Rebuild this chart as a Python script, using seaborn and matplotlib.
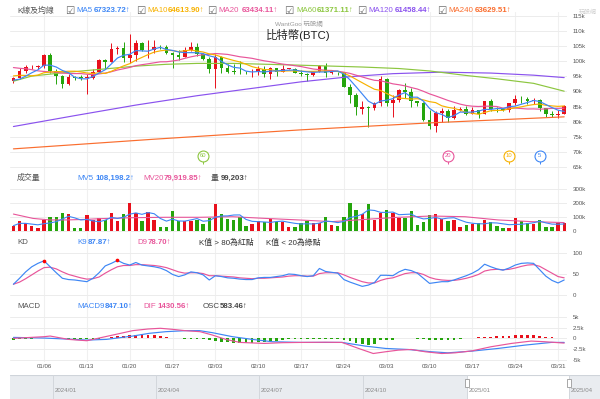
import numpy as np
import pandas as pd
import matplotlib
matplotlib.use("Agg")
import matplotlib.pyplot as plt
import seaborn as sns

# ---------------- data (prices in thousands of USD, volume in thousands) -------------
dates = pd.date_range("2025-01-01", "2025-04-01", freq="D")
open_ = [93.4, 94.4, 96.9, 98.1, 98.2, 98.3, 102.1, 96.9, 95.0, 92.5, 94.7,
         94.6, 94.5, 94.6, 96.5, 100.5, 99.9, 104.1, 104.4, 101.1, 102.0,
         106.1, 103.6, 103.9, 104.8, 104.7, 102.6, 102.0, 101.3, 103.7, 104.7,
         102.4, 100.6, 97.6, 101.4, 97.9, 96.6, 96.5, 96.4, 96.3, 96.5,
         97.4, 95.7, 97.8, 96.6, 97.5, 97.6, 96.1, 95.8, 95.5, 96.6,
         98.3, 96.1, 96.6, 96.3, 91.5, 88.7, 84.3, 84.7, 84.4, 86.1,
         94.3, 86.1, 87.2, 90.6, 89.9, 86.7, 86.2, 80.7, 78.5, 82.9,
         83.7, 81.1, 83.9, 84.3, 82.6, 84.0, 82.7, 86.8, 84.2, 84.1,
         83.8, 86.1, 87.5, 87.4, 86.9, 87.2, 84.4, 82.6, 82.3, 82.5]
high = [94.9, 97.8, 98.9, 98.8, 98.8, 102.5, 102.7, 97.3, 95.3, 95.8, 95.0,
        95.4, 95.9, 97.4, 100.7, 100.9, 105.9, 104.9, 106.3, 109.1, 107.2,
        106.4, 106.9, 107.1, 105.3, 105.5, 103.2, 103.8, 104.8, 106.4, 106.0,
        102.7, 101.4, 102.5, 101.7, 99.0, 99.2, 100.1, 96.9, 97.3, 98.3,
        98.5, 98.1, 97.8, 98.8, 97.9, 97.7, 97.0, 96.0, 96.9, 98.7,
        99.5, 96.9, 96.6, 96.5, 92.5, 89.4, 87.0, 85.1, 86.5, 95.0,
        94.4, 88.9, 90.9, 92.8, 91.2, 86.8, 86.5, 83.9, 83.6, 84.4,
        84.3, 85.3, 84.7, 85.1, 84.7, 84.0, 87.0, 87.4, 84.7, 84.5,
        86.2, 88.7, 88.5, 88.3, 87.8, 87.5, 84.5, 83.5, 83.9, 85.5]
low = [92.8, 94.2, 96.0, 97.5, 97.3, 97.9, 96.1, 92.5, 91.2, 92.2, 93.8,
       93.7, 89.3, 94.3, 96.5, 97.3, 99.9, 102.3, 99.7, 99.5, 100.1,
       103.3, 101.2, 102.8, 104.1, 102.5, 97.8, 100.3, 101.3, 103.3, 101.6,
       100.3, 96.2, 91.2, 96.2, 96.2, 95.7, 95.7, 95.7, 94.7, 95.3,
       94.9, 94.1, 95.2, 96.3, 97.3, 96.1, 95.2, 93.4, 95.2, 96.4,
       94.9, 95.8, 95.3, 91.4, 86.1, 82.3, 82.7, 78.3, 83.8, 85.1,
       85.1, 81.5, 86.4, 87.8, 84.7, 85.3, 80.1, 77.5, 76.6, 80.0,
       79.9, 80.8, 83.6, 82.1, 82.5, 81.2, 82.4, 83.7, 83.2, 83.7,
       83.2, 85.6, 86.3, 85.9, 85.9, 83.6, 81.7, 81.6, 81.3, 82.4]
close = [94.4, 96.9, 98.1, 98.2, 98.3, 102.1, 96.9, 95.0, 92.5, 94.7, 94.5,
         94.5, 94.6, 96.5, 100.5, 99.9, 104.1, 104.4, 101.1, 102.0, 106.1,
         103.6, 103.9, 104.8, 104.7, 102.6, 102.0, 101.3, 103.7, 104.7, 102.4,
         100.6, 97.6, 101.4, 97.9, 96.6, 96.5, 96.4, 96.3, 96.5, 97.4,
         95.7, 97.8, 96.6, 97.5, 97.6, 96.1, 95.8, 95.5, 96.6, 98.3,
         96.1, 96.6, 96.3, 91.5, 88.7, 84.7, 84.7, 84.4, 86.1, 94.3,
         86.1, 87.2, 90.6, 89.9, 86.7, 86.2, 80.7, 78.5, 82.9, 83.7,
         81.1, 83.9, 84.3, 82.6, 84.0, 82.7, 86.8, 84.2, 84.1, 83.8,
         86.1, 87.5, 87.4, 86.9, 87.2, 84.4, 82.6, 82.3, 82.5, 85.2]
# closes 2024-12-13 .. 2024-12-31 (feed the first moving-average values)
prior_close = [101.4, 101.4, 104.3, 106.0, 106.1, 100.0, 97.5, 97.8, 97.2, 95.1,
               94.7, 98.7, 99.4, 95.8, 94.2, 95.2, 93.1, 92.6, 93.4]
volume = [38, 71, 55, 33, 24, 79, 98, 98, 129, 121, 24,
          24, 114, 79, 90, 79, 126, 74, 121, 200, 126,
          74, 138, 79, 31, 31, 143, 74, 74, 74, 79,
          48, 95, 195, 119, 83, 79, 98, 36, 50, 71,
          67, 83, 67, 64, 29, 31, 60, 74, 57, 60,
          102, 45, 36, 98, 198, 148, 119, 190, 79, 129,
          148, 131, 95, 90, 140, 40, 67, 114, 121, 86,
          74, 79, 31, 43, 50, 55, 79, 67, 36, 19,
          24, 90, 71, 60, 50, 79, 31, 26, 55, 60]
k_line = [26, 40, 55, 67, 75, 81, 67, 53, 40, 37, 36,
          34, 32, 40, 53, 69, 75, 82, 75, 71, 77,
          71, 69, 67, 64, 58, 49, 44, 48, 55, 53,
          48, 36, 46, 44, 41, 40, 38, 37, 37, 41,
          42, 42, 44, 46, 50, 49, 46, 44, 46, 63,
          56, 54, 52, 37, 31, 26, 21, 24, 30, 47,
          47, 46, 55, 61, 58, 52, 40, 28, 30, 32,
          32, 36, 41, 46, 52, 60, 73, 67, 62, 59,
          64, 71, 75, 76, 75, 60, 45, 35, 29, 36]
d_line = [26, 31, 39, 48, 57, 65, 66, 62, 55, 49, 45,
          41, 38, 39, 43, 52, 60, 67, 70, 70, 72,
          72, 71, 70, 68, 65, 60, 55, 52, 53, 53,
          51, 46, 46, 45, 44, 43, 41, 40, 39, 40,
          40, 41, 42, 43, 45, 46, 46, 45, 45, 51,
          53, 53, 53, 48, 42, 37, 32, 29, 29, 35,
          39, 41, 46, 51, 53, 53, 49, 42, 38, 36,
          35, 35, 37, 40, 44, 49, 57, 60, 61, 60,
          61, 64, 68, 71, 72, 68, 60, 52, 44, 41]
osc = [-0.3, -0.25, -0.15, -0.05, 0.05, 0.1, 0.15, 0.1, 0.05, -0.1, -0.15,
       -0.2, -0.2, -0.15, -0.1, 0.05, 0.2, 0.45, 0.65, 0.8, 0.85,
       0.9, 0.85, 0.8, 0.6, 0.3, 0.1, 0.05, -0.05, -0.05, -0.1,
       -0.15, -0.3, -0.55, -0.8, -0.95, -1.05, -1.1, -1.1, -1.05, -0.95,
       -0.8, -0.65, -0.5, -0.35, -0.25, -0.2, -0.15, -0.1, -0.1, -0.05,
       -0.05, -0.05, -0.1, -0.3, -0.7, -1.1, -1.4, -1.55, -1.2, -0.45,
       -0.35, -0.3, 0.05, 0.05, 0.05, -0.1, -0.2, -0.35, -0.4, -0.4,
       -0.35, -0.3, -0.1, 0.05, 0.1, 0.2, 0.3, 0.4, 0.5, 0.55,
       0.65, 0.75, 0.8, 0.8, 0.75, 0.6, 0.4, 0.25, 0.1, 0.05]
dif_day = [0, 5, 6, 9, 12, 15, 17, 19.5, 22, 24, 26, 28, 30.5, 32.5, 34.7, 37, 41, 44,
           47, 51, 53.7, 56.4, 58.8, 60.8, 62.9, 65, 67.3, 70, 72.2, 75, 78, 81.4, 84.6, 86.8, 90]
dif_val = [0.0, 0.38, 0.53, -0.24, -0.55, 0.38, 1.0, 1.78, 2.16, 2.32, 2.08, 1.78, 1.54, 0.77, -0.24,
           -0.94, -1.17, -1.0, -0.94, -0.9, -0.94, -2.33, -3.5, -3.1, -2.72, -2.57, -3.1, -3.5, -3.34,
           -2.88, -1.95, -1.17, -0.63, -0.78, -1.09]
macd_day = [0, 5, 8.6, 12, 15.2, 19.5, 22.2, 24.9, 28.2, 30.4, 32.5, 35.8, 39, 42.3, 47,
            53.7, 57.5, 60.8, 64.5, 68.3, 71, 74.9, 79.2, 83.6, 87.9, 90]
macd_val = [0.22, 0.07, -0.16, -0.4, -0.24, 0.53, 1.16, 1.54, 1.78, 1.78, 1.31, 0.38, -0.24, -0.78, -0.94,
            -0.94, -1.79, -2.33, -2.57, -3.1, -3.34, -2.95, -2.33, -1.56, -0.94, -0.94]
mv20_day = [0, 3.2, 5.9, 8.6, 11.9, 14.1, 19.5, 24.9, 30.4, 35.8, 41.2, 46.6,
            52.1, 57.5, 62.9, 68.3, 73.8, 79.2, 84.6, 90]
mv20_val = [121, 90, 79, 79, 83, 88, 95, 98, 98, 102, 90, 79,
            67, 83, 98, 107, 102, 79, 67, 60]
ma60_day = [0, 3, 9, 14, 20, 25, 30, 36, 47, 52, 57, 63, 68, 74, 79, 85, 90]
ma60_val = [93.4, 95.1, 96.4, 97.3, 98.4, 99.0, 99.3, 99.3, 98.7, 98.4, 98.1, 97.6, 96.8, 95.3, 94.2, 92.7, 90.1]
ma120_day = [0, 10, 20, 30, 40, 47, 55, 62, 70, 78, 85, 90]
ma120_val = [78.4, 82.0, 85.5, 88.6, 91.3, 93.2, 94.9, 95.9, 96.4, 96.1, 95.4, 94.6]
ma240_day = [0, 23, 47, 68, 90]
ma240_val = [71.0, 74.2, 77.3, 79.6, 81.6]
ma_marker_n = [60, 20, 10, 5]

price_ticks = [65, 70, 75, 80, 85, 90, 95, 100, 105, 110, 115]
vol_ticks = [0, 100, 200, 300]
kd_ticks = [0, 50, 100]
macd_ticks = [-5, -2.5, 0, 2.5, 5]
macd_tick_labels = ["-5k", "-2.5k", "0", "2.5k", "5k"]
nav_labels = ["2024/01", "2024/04", "2024/07", "2024/10", "2025/01", "2025/04"]

# ---------------- styling ----------------
sns.set_theme(style="white")
plt.rcParams['font.family'] = ['Liberation Sans', 'Noto Sans CJK TC', 'DejaVu Sans']

RED, GREEN = "#e8101c", "#25a50c"
C5, C10, C20, C60, C120, C240 = "#3d86f5", "#f7b100", "#e8559a", "#8cc63f", "#8a52ee", "#fa6d2e"
GRID = "#ececec"
TICK = "#555555"

W, H = 600, 399
fig = plt.figure(figsize=(W / 100, H / 100), dpi=100)
fig.patch.set_facecolor("white")


def axes_px(x0, y0, x1, y1):
    a = fig.add_axes([x0 / W, 1 - y1 / H, (x1 - x0) / W, (y1 - y0) / H])
    a.set_facecolor("none")
    for s in a.spines.values():
        s.set_visible(False)
    return a


def ftext(x, y, s, color="#555", size=5.7, weight="normal", ha="left", **kw):
    fig.text(x / W, 1 - y / H, s, color=color, fontsize=size, fontweight=weight,
             ha=ha, va="center", **kw)


n = len(close)
idx = np.arange(n)
XL = (-0.56, 90.46)
mondays = [i for i in idx if dates[i].weekday() == 0]

# background vertical grid
bg = axes_px(10, 12, 567, 362)
bg.set_xlim(*XL)
bg.set_ylim(0, 1)
for m in mondays:
    bg.axvline(m, color="#f0f0f0", lw=0.8)
bg.set_xticks([]); bg.set_yticks([])


def style(ax, ticks, labels, ylim):
    ax.set_xlim(*XL)
    ax.set_ylim(*ylim)
    ax.yaxis.tick_right()
    ax.set_yticks(ticks)
    ax.set_yticklabels(labels)
    ax.tick_params(axis="y", length=0, pad=4.3, labelsize=4.4, labelcolor=TICK)
    ax.grid(axis="y", color=GRID, lw=0.7)
    ax.grid(axis="x", visible=False)
    ax.set_axisbelow(True)
    ax.set_xlabel(""); ax.set_ylabel("")


up = np.array(close) >= np.array(open_)
cols = np.where(up, RED, GREEN)

# ---------------- price panel ----------------
axp = axes_px(10, 12, 567, 172)
full = pd.Series(prior_close + close)
ma5 = full.rolling(5).mean().iloc[len(prior_close):].values
ma10 = full.rolling(10).mean().iloc[len(prior_close):].values
ma20 = full.rolling(20).mean().iloc[len(prior_close):].values

axp.vlines(idx, low, high, colors=cols, lw=0.7, zorder=3)
body_lo = np.minimum(open_, close)
body_h = np.maximum(np.abs(np.array(close) - np.array(open_)), 0.15)
axp.bar(idx, body_h, bottom=body_lo, width=0.6, color=cols, zorder=4, linewidth=0)

sns.lineplot(x=ma240_day, y=ma240_val, ax=axp, color=C240, lw=0.85, zorder=5)
sns.lineplot(x=ma120_day, y=ma120_val, ax=axp, color=C120, lw=0.85, zorder=5)
sns.lineplot(x=ma60_day, y=ma60_val, ax=axp, color=C60, lw=0.85, zorder=5)
sns.lineplot(x=idx, y=ma20, ax=axp, color=C20, lw=0.85, zorder=5)
sns.lineplot(x=idx, y=ma10, ax=axp, color=C10, lw=0.85, zorder=5)
sns.lineplot(x=idx, y=ma5, ax=axp, color=C5, lw=0.85, zorder=6)
style(axp, price_ticks, [f"{t}k" for t in price_ticks], (63.34, 116.32))
axp.set_xticks([])

# MA window markers
my = 68.64
for nn, c in zip(ma_marker_n, [C60, C20, C10, C5]):
    xi = n - nn
    axp.vlines(xi, 65.9, my, colors=c, lw=0.7, zorder=6)
    axp.scatter([xi], [my], s=62, facecolor="white", edgecolor=c, linewidth=0.8, zorder=7)
    axp.text(xi, my, str(nn), color=c, fontsize=4.2, ha="center", va="center", zorder=8)

# ---------------- volume panel ----------------
axv = axes_px(10, 186, 567, 232)
axv.bar(idx, volume, width=0.55, color=cols, linewidth=0, zorder=3)
mv5 = pd.Series(volume).rolling(5, min_periods=1).mean().values
sns.lineplot(x=mv20_day, y=mv20_val, ax=axv, color=C20, lw=0.8, zorder=4)
sns.lineplot(x=idx, y=mv5, ax=axv, color=C5, lw=0.8, zorder=5)
style(axv, vol_ticks, ["0", "100k", "200k", "300k"], (-7.1, 321.4))
axv.set_xticks([])

# ---------------- KD panel ----------------
axk = axes_px(10, 249, 567, 298)
sns.lineplot(x=idx, y=d_line, ax=axk, color=C20, lw=0.85, zorder=4)
sns.lineplot(x=idx, y=k_line, ax=axk, color=C5, lw=0.85, zorder=5)
kk = np.array(k_line)
axk.scatter(idx[kk > 80], kk[kk > 80], s=7, color="#ff0000", zorder=6, linewidth=0)
axk.scatter(idx[kk < 20], kk[kk < 20], s=7, color="#00aa00", zorder=6, linewidth=0)
style(axk, kd_ticks, ["0", "50", "100"], (-6.3, 108.7))
axk.set_xticks([])

# ---------------- MACD panel ----------------
axm = axes_px(10, 313, 567, 362)
oo = np.array(osc)
axm.bar(idx, oo, width=0.45, color=np.where(oo >= 0, RED, GREEN), linewidth=0, zorder=3)
sns.lineplot(x=macd_day, y=macd_val, ax=axm, color=C5, lw=0.85, zorder=4)
sns.lineplot(x=dif_day, y=dif_val, ax=axm, color=C20, lw=0.85, zorder=5)
style(axm, macd_ticks, macd_tick_labels, (-5.46, 5.85))
axm.set_xticks(mondays)
axm.set_xticklabels([dates[i].strftime("%m/%d") for i in mondays])
axm.tick_params(axis="x", length=0, pad=1.6, labelsize=4.4, labelcolor=TICK)

# ---------------- navigator ----------------
axn = axes_px(10, 375, 600, 399)
axn.set_xlim(10, 600); axn.set_ylim(0, 1)
axn.axvspan(10, 467, color="#e9ecf0", lw=0)
axn.axvspan(569, 600, color="#e9ecf0", lw=0)
axn.axhline(0.985, color="#cfd4da", lw=0.8)
nav_x = [53, 156, 259, 363, 467, 569]
for xv, lab in zip(nav_x, nav_labels):
    axn.axvline(xv, color="#d3d7dc", lw=0.7)
    axn.text(xv + 2, 0.36, lab, fontsize=4.4, color="#8a8a8a", ha="left", va="center")
for xv in (467, 569):
    axn.add_patch(plt.Rectangle((xv - 1.6, 0.5), 3.2, 0.34, facecolor="white",
                                edgecolor="#9a9a9a", lw=0.6, zorder=5))
axn.set_xticks([]); axn.set_yticks([])

# ---------------- texts ----------------
ftext(299, 23.5, "WantGoo 玩股網", color="#9a9a9a", size=4.6, ha="center")
ftext(298.5, 35, "比特幣(BTC)", color="#222222", size=8.2, ha="center")
ftext(588, 12, "玩股網", color="#cfcfcf", size=4.3, ha="center")

# header row: K lines and MAs
ftext(17, 11, "K線及均線", color="#555")
ma_hdr = [(65, 76, 94, "MA5", "67323.72↑", C5), (136, 147, 168, "MA10", "64613.90↑", C10),
          (207, 218, 242, "MA20", "63434.11↑", C20), (284, 296, 317, "MA60", "61371.11↑", C60),
          (357, 368, 395, "MA120", "61458.44↑", C120), (437, 448, 475, "MA240", "63629.51↑", C240)]
for bx, lx, vx, lab, val, c in ma_hdr:
    ftext(bx, 11, "☑", color="#666", size=7.5, family="DejaVu Sans")
    ftext(lx, 11, lab, color=c)
    ftext(vx, 11, val, color=c, weight="bold")

# volume header
ftext(17, 178.3, "成交量", color="#555")
ftext(77, 178.3, "MV5", color=C5); ftext(95, 178.3, "108,198.2↑", color=C5, weight="bold")
ftext(143, 178.3, "MV20", color=C20); ftext(164, 178.3, "79,919.85↑", color=C20, weight="bold")
ftext(211, 178.3, "量", color="#444"); ftext(221, 178.3, "99,203↑", color="#444", weight="bold")

# KD header
ftext(17, 242.7, "KD", color="#555")
ftext(77, 242.7, "K9", color=C5); ftext(88, 242.7, "87.87↑", color=C5, weight="bold")
ftext(137, 242.7, "D9", color=C20); ftext(148, 242.7, "78.70↑", color=C20, weight="bold")
ftext(199, 242.7, "K值 > 80為紅點", color="#333")
ftext(266, 242.7, "K值 < 20為綠點", color="#333")

# MACD header
ftext(17, 307, "MACD", color="#555")
ftext(77, 307, "MACD9", color=C5); ftext(105, 307, "847.10↑", color=C5, weight="bold")
ftext(143, 307, "DIF", color=C20); ftext(157, 307, "1430.56↑", color=C20, weight="bold")
ftext(203, 307, "OSC", color="#444"); ftext(220, 307, "583.46↑", color="#444", weight="bold")

fig.savefig("out.png", dpi=100, facecolor="white")
